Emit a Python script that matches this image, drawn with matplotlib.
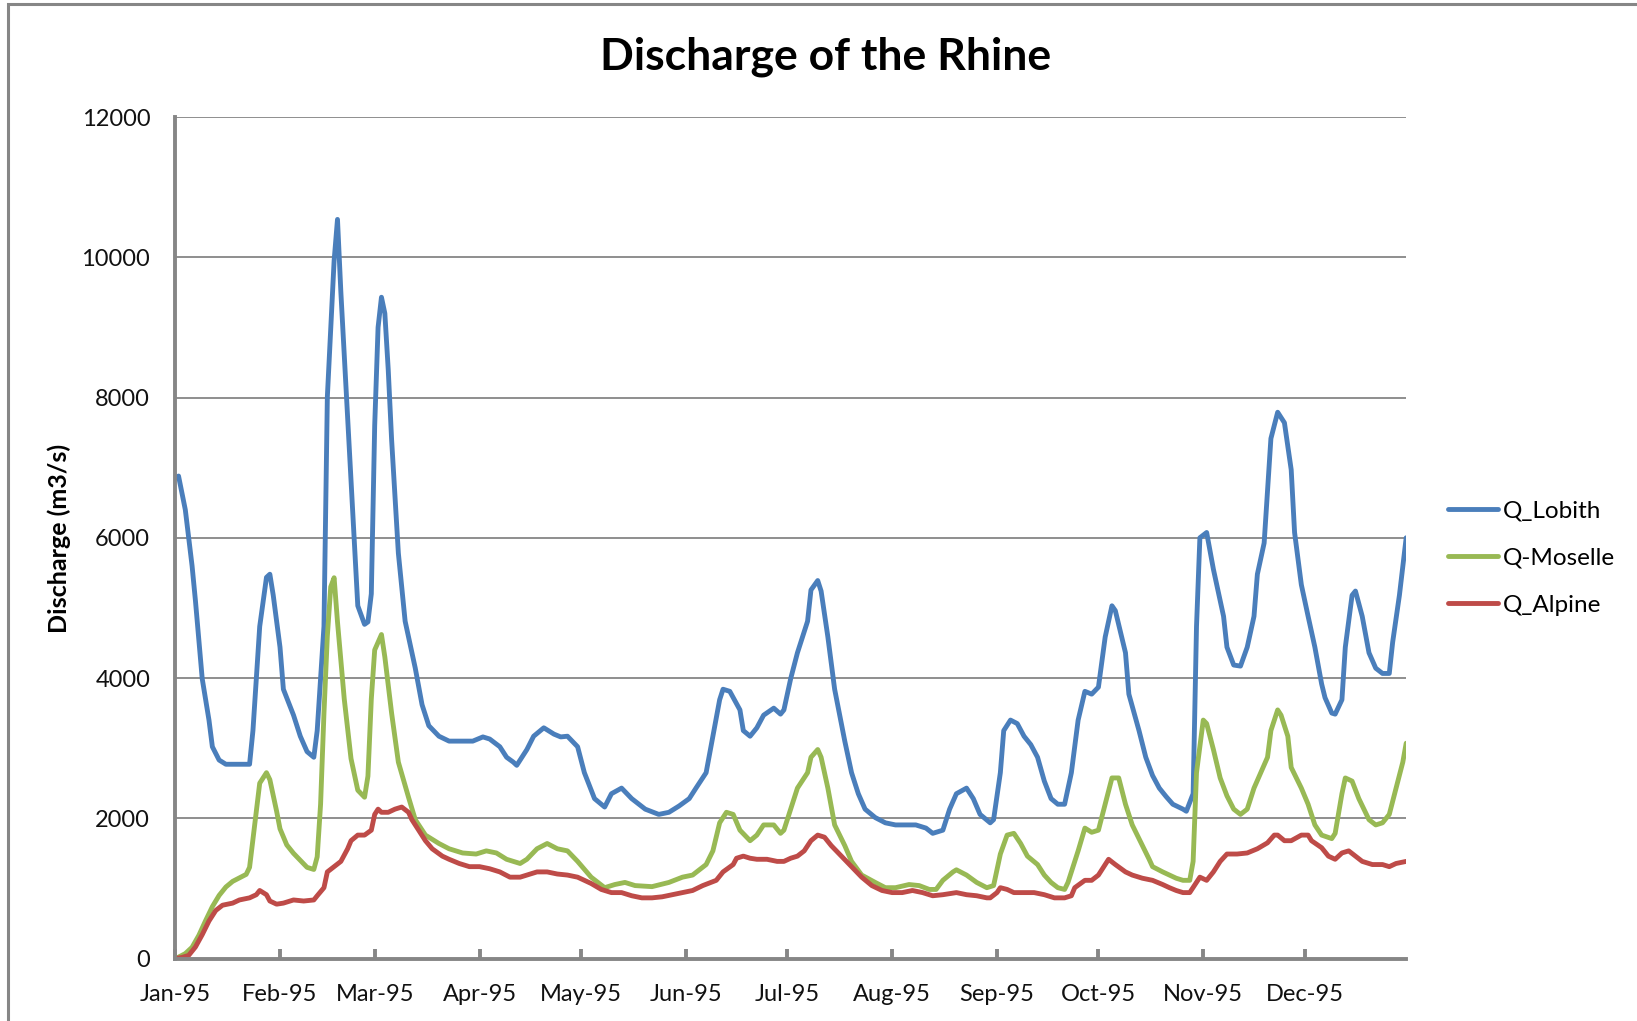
import pandas as pd
import matplotlib
matplotlib.use("Agg")
import matplotlib.pyplot as plt
import matplotlib.dates as mdates
from matplotlib.patches import Rectangle

# daily discharge 1995 as (day of year, m3/s)
lobith_day = [0, 1, 3, 5, 6, 8, 10, 11, 13, 15, 18, 22, 23, 25, 27, 28, 29, 31, 32, 35,
              37, 39, 41, 42, 44, 45, 47, 48, 49, 51, 53, 54, 56, 57, 58, 59, 60, 61, 62, 63,
              64, 66, 68, 71, 73, 75, 78, 81, 88, 91, 93, 96, 98, 100, 101, 104, 106, 109, 112, 114,
              116, 119, 121, 124, 127, 129, 132, 135, 139, 143, 146, 149, 152, 154, 157, 159, 161, 162, 164, 167,
              168, 170, 172, 174, 177, 179, 180, 182, 184, 187, 188, 190, 191, 193, 195, 198, 200, 202, 204, 207,
              210, 213, 219, 222, 224, 227, 229, 231, 234, 236, 238, 241, 242, 244, 245, 247, 249, 251, 253, 255,
              257, 259, 261, 263, 265, 267, 269, 271, 273, 275, 277, 278, 281, 282, 285, 287, 289, 291, 293, 295,
              298, 299, 301, 302, 303, 305, 307, 310, 311, 313, 315, 317, 319, 320, 322, 323, 324, 326, 328, 330,
              331, 333, 335, 337, 339, 340, 342, 343, 345, 346, 348, 349, 351, 353, 355, 357, 359, 360, 362, 364]
lobith_q = [6850, 6880, 6400, 5600, 5100, 3990, 3400, 3020, 2830, 2770, 2770, 2770, 3250, 4735, 5435, 5480, 5180, 4440, 3840, 3470,
            3170, 2950, 2870, 3250, 4735, 8010, 9950, 10540, 9500, 7710, 5925, 5030, 4765, 4800, 5200, 7600, 9000, 9430, 9200, 8400,
            7400, 5780, 4810, 4140, 3620, 3320, 3170, 3100, 3100, 3160, 3130, 3020, 2870, 2800, 2755, 2980, 3170, 3290, 3200, 3160,
            3170, 3020, 2650, 2280, 2160, 2350, 2430, 2280, 2130, 2055, 2085, 2175, 2280, 2430, 2650, 3170, 3690, 3840, 3810, 3545,
            3250, 3170, 3290, 3470, 3570, 3485, 3545, 3990, 4360, 4810, 5255, 5390, 5240, 4585, 3840, 3100, 2650, 2350, 2130, 2010,
            1935, 1905, 1905, 1860, 1785, 1830, 2130, 2350, 2430, 2280, 2055, 1935, 1980, 2650, 3250, 3400, 3350, 3170, 3050, 2870,
            2530, 2280, 2200, 2200, 2650, 3400, 3810, 3770, 3870, 4585, 5030, 4960, 4360, 3770, 3250, 2870, 2610, 2430, 2310, 2200,
            2130, 2100, 2350, 4735, 6000, 6075, 5550, 4880, 4440, 4185, 4170, 4440, 4880, 5480, 5925, 6670, 7415, 7790, 7640, 6970,
            6075, 5330, 4880, 4440, 3915, 3720, 3500, 3485, 3690, 4440, 5180, 5240, 4880, 4360, 4140, 4065, 4065, 4510, 5180, 6000]

moselle_day = [0, 1, 3, 5, 7, 9, 11, 13, 15, 17, 19, 21, 22, 23, 24, 25, 27, 28, 30, 31,
               33, 35, 37, 39, 41, 42, 43, 44, 45, 46, 47, 48, 50, 52, 54, 56, 57, 58, 59, 61,
               62, 64, 66, 69, 71, 74, 78, 81, 85, 89, 92, 95, 98, 102, 104, 107, 110, 113, 116, 119,
               123, 127, 130, 133, 136, 141, 146, 150, 153, 157, 159, 161, 163, 165, 167, 170, 172, 174, 177, 179,
               180, 182, 184, 187, 188, 190, 191, 193, 195, 198, 200, 203, 207, 210, 213, 217, 220, 223, 225, 227,
               230, 231, 234, 237, 240, 242, 244, 246, 248, 250, 252, 255, 257, 259, 261, 263, 264, 267, 269, 271,
               273, 275, 277, 279, 281, 283, 286, 288, 289, 292, 294, 296, 298, 300, 301, 302, 304, 305, 307, 309,
               311, 313, 315, 317, 319, 321, 323, 324, 326, 327, 329, 330, 333, 335, 337, 339, 342, 343, 345, 346,
               348, 350, 353, 355, 357, 359, 361, 363, 364]
moselle_q = [0, 20, 70, 160, 330, 540, 740, 900, 1020, 1100, 1150, 1200, 1300, 1700, 2100, 2500, 2650, 2550, 2100, 1850,
             1620, 1500, 1400, 1300, 1270, 1450, 2200, 3500, 4600, 5300, 5430, 4800, 3700, 2850, 2400, 2300, 2600, 3700, 4400, 4620,
             4300, 3500, 2800, 2300, 1980, 1760, 1640, 1565, 1505, 1490, 1535, 1505, 1415, 1355, 1415, 1565, 1640, 1565, 1535, 1385,
             1160, 1010, 1055, 1085, 1040, 1025, 1085, 1160, 1190, 1340, 1535, 1935, 2085, 2055, 1830, 1680, 1760, 1905, 1905, 1785,
             1830, 2130, 2430, 2650, 2870, 2980, 2870, 2430, 1905, 1610, 1385, 1190, 1085, 1010, 1010, 1055, 1040, 985, 985, 1115,
             1235, 1265, 1190, 1085, 1010, 1040, 1490, 1760, 1785, 1640, 1460, 1340, 1190, 1085, 1010, 985, 1085, 1535, 1860, 1800,
             1830, 2200, 2575, 2575, 2200, 1905, 1610, 1415, 1310, 1235, 1190, 1145, 1115, 1115, 1385, 2650, 3400, 3350, 2980, 2575,
             2320, 2130, 2055, 2130, 2430, 2650, 2870, 3250, 3545, 3470, 3170, 2725, 2430, 2200, 1905, 1760, 1710, 1785, 2350, 2575,
             2530, 2280, 1980, 1905, 1935, 2055, 2430, 2800, 3070]

alpine_day = [0, 2, 4, 6, 8, 10, 12, 14, 17, 19, 22, 24, 25, 27, 28, 30, 32, 35, 38, 41,
              42, 44, 45, 47, 49, 51, 52, 54, 56, 58, 59, 60, 61, 63, 65, 67, 69, 70, 72, 74,
              76, 79, 81, 84, 87, 90, 93, 96, 99, 102, 104, 107, 110, 113, 116, 119, 123, 126, 129, 132,
              135, 138, 141, 144, 147, 150, 153, 156, 160, 162, 165, 166, 168, 170, 172, 175, 178, 180, 182, 184,
              186, 188, 190, 192, 194, 197, 200, 203, 206, 209, 212, 215, 218, 221, 224, 227, 231, 234, 237, 240,
              241, 243, 244, 246, 248, 251, 254, 257, 260, 263, 265, 266, 269, 271, 273, 275, 276, 278, 281, 283,
              286, 289, 292, 294, 296, 298, 300, 302, 303, 305, 307, 309, 311, 314, 317, 320, 323, 325, 326, 328,
              330, 333, 335, 336, 339, 341, 343, 345, 347, 349, 351, 354, 357, 359, 361, 364]
alpine_q = [0, 15, 45, 165, 340, 535, 685, 760, 790, 835, 865, 910, 970, 910, 820, 775, 790, 835, 820, 835,
            895, 1010, 1235, 1310, 1385, 1565, 1680, 1760, 1760, 1830, 2055, 2130, 2085, 2085, 2130, 2160, 2085, 1980, 1830, 1680,
            1565, 1460, 1415, 1355, 1310, 1310, 1280, 1235, 1160, 1160, 1190, 1235, 1235, 1205, 1190, 1160, 1070, 985, 940, 940,
            895, 865, 865, 880, 910, 940, 970, 1040, 1115, 1235, 1340, 1430, 1460, 1430, 1415, 1415, 1385, 1385, 1430, 1460,
            1535, 1680, 1760, 1730, 1610, 1460, 1310, 1160, 1040, 970, 940, 940, 970, 940, 895, 910, 940, 910, 895, 865,
            865, 940, 1010, 985, 940, 940, 940, 910, 865, 865, 895, 1010, 1115, 1115, 1190, 1340, 1415, 1340, 1235, 1190,
            1145, 1115, 1055, 1010, 970, 940, 940, 1085, 1160, 1115, 1235, 1385, 1490, 1490, 1505, 1565, 1650, 1760, 1760, 1680,
            1680, 1760, 1760, 1680, 1580, 1460, 1415, 1505, 1535, 1460, 1385, 1340, 1340, 1310, 1355, 1385]

series_names = ["Q_Lobith", "Q-Moselle", "Q_Alpine"]
series_colors = ["#4A7EBB", "#98B954", "#BE4B48"]

start = pd.Timestamp("1995-01-01")


def to_dates(days):
    return start + pd.to_timedelta(days, unit="D")


plt.rcParams["font.family"] = ["Lato", "DejaVu Sans"]
grey = "#868686"

fig = plt.figure(figsize=(16.37, 10.21), dpi=100)
ax = fig.add_axes([0.107, 0.0612, 0.752, 0.8242])

for days, q, name, col in zip([lobith_day, moselle_day, alpine_day],
                              [lobith_q, moselle_q, alpine_q],
                              series_names, series_colors):
    ax.plot(to_dates(days), q, color=col, lw=3.5, label=name,
            solid_joinstyle="round", solid_capstyle="round")

ax.set_xlim(start, pd.Timestamp("1995-12-31"))
ax.set_ylim(0, 12000)
ax.set_yticks(range(0, 12001, 2000))
ax.xaxis.set_major_locator(mdates.MonthLocator())
ax.xaxis.set_major_formatter(mdates.DateFormatter("%b-%y"))

ax.grid(axis="y", color=grey, lw=1.3)
ax.set_axisbelow(True)
for s in ["top", "right"]:
    ax.spines[s].set_visible(False)
for s in ["left", "bottom"]:
    ax.spines[s].set_color(grey)
    ax.spines[s].set_linewidth(2.8)

ax.tick_params(axis="x", direction="in", length=7, width=2.8, color=grey,
               labelsize=17, pad=18, labelcolor="#111111")
ax.tick_params(axis="y", length=0, labelsize=17, pad=18, labelcolor="#111111")

fig.text(826 / 1637, 1 - 57 / 1021, "Discharge of the Rhine", ha="center",
         va="center", fontsize=32, fontweight="bold")
fig.text(59 / 1637, 1 - 538 / 1021, "Discharge (m3/s)", ha="center",
         va="center", rotation=90, fontsize=18, fontweight="bold")

fig.legend(loc="center left", bbox_to_anchor=(1448 / 1637, 1 - 558 / 1021),
           frameon=False, fontsize=17.5, handlelength=2.05, handletextpad=0.2,
           labelspacing=1.08, borderpad=0, borderaxespad=0)

fig.patches.append(Rectangle((8 / 1637, -0.1), 2, 1.1 - 4 / 1021,
                             transform=fig.transFigure, fill=False,
                             edgecolor=grey, lw=2.2))

fig.savefig("out.png", dpi=100)
